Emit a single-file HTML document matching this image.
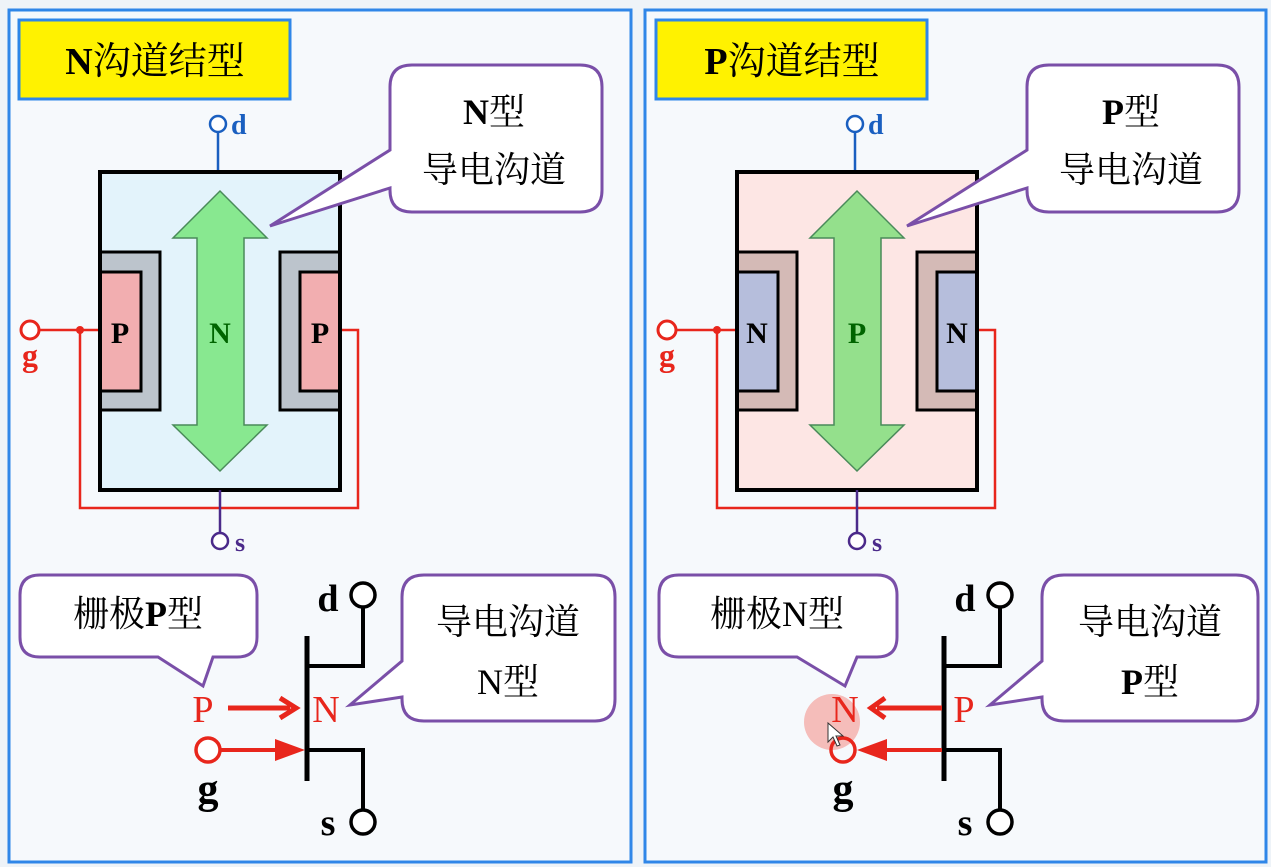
<!DOCTYPE html>
<html><head><meta charset="utf-8">
<style>
html,body{margin:0;padding:0;background:#f4f8fc;}
svg{display:block;}
text{font-family:"Liberation Serif","Noto Serif CJK SC",serif;}
.cj{font-family:"Liberation Serif","Noto Serif CJK SC",serif;}
</style></head><body>
<svg width="1271" height="867" viewBox="0 0 1271 867" xmlns="http://www.w3.org/2000/svg">
<rect width="1271" height="867" fill="#eef3f8"/>

<!-- LEFT PANEL -->
<g>
<rect x="9" y="10" width="622" height="852" fill="#f6f9fc" stroke="#2f86e8" stroke-width="3"/>
<rect x="19" y="20" width="271" height="79" fill="#fff200" stroke="#2f86e8" stroke-width="3"/>
<text x="155" y="74" font-size="38" text-anchor="middle" class="cj" fill="#000"><tspan font-weight="bold">N</tspan>沟道结型</text>
<line x1="218" y1="132" x2="218" y2="172" stroke="#1a5fc0" stroke-width="2.5"/>
<circle cx="218" cy="124" r="8" fill="#fff" stroke="#1a5fc0" stroke-width="2.5"/>
<text x="231" y="134" font-size="28" font-weight="bold" fill="#1a5fc0">d</text>
<polyline points="80,330 80,508 358,508 358,330 340,330" fill="none" stroke="#e8261c" stroke-width="2.5"/>
<line x1="39" y1="330" x2="100" y2="330" stroke="#e8261c" stroke-width="2.5"/>
<circle cx="80" cy="330" r="4" fill="#e8261c"/>
<circle cx="30" cy="330" r="9" fill="#fff" stroke="#e8261c" stroke-width="3"/>
<text x="30" y="366" font-size="32" font-weight="bold" fill="#e8261c" text-anchor="middle">g</text>
<rect x="100" y="172" width="240" height="318" fill="#e3f3fb" stroke="#000" stroke-width="4"/>
<rect x="100" y="252" width="60" height="158" fill="#bcc4cc" stroke="#000" stroke-width="3"/>
<rect x="100" y="272" width="41" height="119" fill="#f2aeb0" stroke="#000" stroke-width="3"/>
<rect x="280" y="252" width="60" height="158" fill="#bcc4cc" stroke="#000" stroke-width="3"/>
<rect x="300" y="272" width="40" height="119" fill="#f2aeb0" stroke="#000" stroke-width="3"/>
<line x1="340" y1="250" x2="340" y2="412" stroke="#000" stroke-width="4"/>
<line x1="100" y1="250" x2="100" y2="412" stroke="#000" stroke-width="4"/>
<polygon points="220,191 267,238 244,238 244,425 267,425 220,471 173,425 197,425 197,238 173,238" fill="#88e890" stroke="#4a8a5a" stroke-width="1.5"/>
<text x="220" y="343" font-size="30" font-weight="bold" fill="#006400" text-anchor="middle">N</text>
<text x="120" y="343" font-size="30" font-weight="bold" fill="#000" text-anchor="middle">P</text>
<text x="320" y="343" font-size="30" font-weight="bold" fill="#000" text-anchor="middle">P</text>
<line x1="220" y1="490" x2="220" y2="533" stroke="#4b2a8a" stroke-width="2.5"/>
<circle cx="220" cy="541" r="8" fill="#fff" stroke="#4b2a8a" stroke-width="2.5"/>
<text x="235" y="551" font-size="26" font-weight="bold" fill="#4b2a8a">s</text>
<path d="M412,65 H580 Q602,65 602,87 V190 Q602,212 580,212 H412 Q390,212 390,190 V188 L270,226 L390,150 V87 Q390,65 412,65 Z" fill="#fff" stroke="#7a4fa8" stroke-width="3"/>
<text x="494" y="124" font-size="36" text-anchor="middle" class="cj"><tspan font-weight="bold">N</tspan>型</text>
<text x="494" y="182" font-size="36" text-anchor="middle" class="cj">导电沟道</text>
<path d="M40,575 H237 Q257,575 257,595 V637 Q257,657 237,657 H213 L203,686 L158,657 H40 Q20,657 20,637 V595 Q20,575 40,575 Z" fill="#fff" stroke="#7a4fa8" stroke-width="3"/>
<text x="138" y="626" font-size="36" text-anchor="middle" class="cj">栅极<tspan font-weight="bold">P</tspan>型</text>
<path d="M424,575 H595 Q615,575 615,597 V699 Q615,721 595,721 H424 Q402,721 402,699 V697 L350,705 L402,661 V597 Q402,575 424,575 Z" fill="#fff" stroke="#7a4fa8" stroke-width="3"/>
<text x="508" y="634" font-size="36" text-anchor="middle" class="cj">导电沟道</text>
<text x="508" y="694" font-size="36" text-anchor="middle" class="cj">N型</text>
<line x1="307" y1="636" x2="307" y2="781" stroke="#000" stroke-width="5"/>
<polyline points="307,666 363,666 363,607" fill="none" stroke="#000" stroke-width="4"/>
<circle cx="363" cy="595" r="12" fill="#fff" stroke="#000" stroke-width="3.5"/>
<text x="328" y="611" font-size="38" font-weight="bold" text-anchor="middle">d</text>
<polyline points="307,750 363,750 363,810" fill="none" stroke="#000" stroke-width="4"/>
<circle cx="363" cy="822" r="12" fill="#fff" stroke="#000" stroke-width="3.5"/>
<text x="328" y="835" font-size="38" font-weight="bold" text-anchor="middle">s</text>
<text x="203" y="722" font-size="38" fill="#e8261c" text-anchor="middle">P</text>
<line x1="228" y1="708" x2="290" y2="708" stroke="#e8261c" stroke-width="5"/>
<polyline points="280,698 296,708 280,718" fill="none" stroke="#e8261c" stroke-width="5"/>
<text x="326" y="722" font-size="38" fill="#e8261c" text-anchor="middle">N</text>
<circle cx="208" cy="750" r="12" fill="#fff" stroke="#e8261c" stroke-width="3.5"/>
<line x1="220" y1="750" x2="280" y2="750" stroke="#e8261c" stroke-width="4"/>
<polygon points="275,739 305,750 275,761" fill="#e8261c"/>
<text x="208" y="803" font-size="42" font-weight="bold" text-anchor="middle">g</text>
</g>

<!-- RIGHT PANEL -->
<g transform="translate(637,0)">
<rect x="8" y="10" width="621" height="852" fill="#f6f9fc" stroke="#2f86e8" stroke-width="3"/>
<rect x="19" y="20" width="271" height="79" fill="#fff200" stroke="#2f86e8" stroke-width="3"/>
<text x="155" y="74" font-size="38" text-anchor="middle" class="cj" fill="#000"><tspan font-weight="bold">P</tspan>沟道结型</text>
<line x1="218" y1="132" x2="218" y2="172" stroke="#1a5fc0" stroke-width="2.5"/>
<circle cx="218" cy="124" r="8" fill="#fff" stroke="#1a5fc0" stroke-width="2.5"/>
<text x="231" y="134" font-size="28" font-weight="bold" fill="#1a5fc0">d</text>
<polyline points="80,330 80,508 358,508 358,330 340,330" fill="none" stroke="#e8261c" stroke-width="2.5"/>
<line x1="39" y1="330" x2="100" y2="330" stroke="#e8261c" stroke-width="2.5"/>
<circle cx="80" cy="330" r="4" fill="#e8261c"/>
<circle cx="30" cy="330" r="9" fill="#fff" stroke="#e8261c" stroke-width="3"/>
<text x="30" y="366" font-size="32" font-weight="bold" fill="#e8261c" text-anchor="middle">g</text>
<rect x="100" y="172" width="240" height="318" fill="#fde6e4" stroke="#000" stroke-width="4"/>
<rect x="100" y="252" width="60" height="158" fill="#d4bab6" stroke="#000" stroke-width="3"/>
<rect x="100" y="272" width="41" height="119" fill="#b6bedc" stroke="#000" stroke-width="3"/>
<rect x="280" y="252" width="60" height="158" fill="#d4bab6" stroke="#000" stroke-width="3"/>
<rect x="300" y="272" width="40" height="119" fill="#b6bedc" stroke="#000" stroke-width="3"/>
<line x1="340" y1="250" x2="340" y2="412" stroke="#000" stroke-width="4"/>
<line x1="100" y1="250" x2="100" y2="412" stroke="#000" stroke-width="4"/>
<polygon points="220,191 267,238 244,238 244,425 267,425 220,471 173,425 197,425 197,238 173,238" fill="#94e08c" stroke="#4a8a5a" stroke-width="1.5"/>
<text x="220" y="343" font-size="30" font-weight="bold" fill="#006400" text-anchor="middle">P</text>
<text x="120" y="343" font-size="30" font-weight="bold" fill="#000" text-anchor="middle">N</text>
<text x="320" y="343" font-size="30" font-weight="bold" fill="#000" text-anchor="middle">N</text>
<line x1="220" y1="490" x2="220" y2="533" stroke="#4b2a8a" stroke-width="2.5"/>
<circle cx="220" cy="541" r="8" fill="#fff" stroke="#4b2a8a" stroke-width="2.5"/>
<text x="235" y="551" font-size="26" font-weight="bold" fill="#4b2a8a">s</text>
<path d="M412,65 H580 Q602,65 602,87 V190 Q602,212 580,212 H412 Q390,212 390,190 V188 L270,226 L390,150 V87 Q390,65 412,65 Z" fill="#fff" stroke="#7a4fa8" stroke-width="3"/>
<text x="494" y="124" font-size="36" text-anchor="middle" class="cj"><tspan font-weight="bold">P</tspan>型</text>
<text x="494" y="182" font-size="36" text-anchor="middle" class="cj">导电沟道</text>
<path d="M42,575 H240 Q260,575 260,595 V637 Q260,657 240,657 H220 L208,686 L160,657 H42 Q22,657 22,637 V595 Q22,575 42,575 Z" fill="#fff" stroke="#7a4fa8" stroke-width="3"/>
<text x="140" y="626" font-size="36" text-anchor="middle" class="cj">栅极N型</text>
<path d="M427,575 H599 Q621,575 621,597 V699 Q621,721 599,721 H427 Q405,721 405,699 V697 L353,705 L405,661 V597 Q405,575 427,575 Z" fill="#fff" stroke="#7a4fa8" stroke-width="3"/>
<text x="513" y="634" font-size="36" text-anchor="middle" class="cj">导电沟道</text>
<text x="513" y="694" font-size="36" text-anchor="middle" class="cj"><tspan font-weight="bold">P</tspan>型</text>
<line x1="307" y1="636" x2="307" y2="781" stroke="#000" stroke-width="5"/>
<polyline points="307,666 363,666 363,607" fill="none" stroke="#000" stroke-width="4"/>
<circle cx="363" cy="595" r="12" fill="#fff" stroke="#000" stroke-width="3.5"/>
<text x="328" y="611" font-size="38" font-weight="bold" text-anchor="middle">d</text>
<polyline points="307,750 363,750 363,810" fill="none" stroke="#000" stroke-width="4"/>
<circle cx="363" cy="822" r="12" fill="#fff" stroke="#000" stroke-width="3.5"/>
<text x="328" y="835" font-size="38" font-weight="bold" text-anchor="middle">s</text>
<circle cx="195" cy="722" r="28" fill="#f4a8a4" opacity="0.75"/>
<text x="208" y="722" font-size="38" fill="#e8261c" text-anchor="middle">N</text>
<line x1="240" y1="708" x2="305" y2="708" stroke="#e8261c" stroke-width="5"/>
<polyline points="248,698 234,708 248,718" fill="none" stroke="#e8261c" stroke-width="5"/>
<text x="327" y="722" font-size="38" fill="#e8261c" text-anchor="middle">P</text>
<circle cx="206" cy="750" r="12" fill="none" stroke="#e8261c" stroke-width="3.5"/>
<line x1="240" y1="750" x2="305" y2="750" stroke="#e8261c" stroke-width="4"/>
<polygon points="250,739 220,750 250,761" fill="#e8261c"/>
<path d="M191,723 L191,742 L196,737 L200,746 L203,745 L199,736 L206,736 Z" fill="#fff" stroke="#333" stroke-width="1"/>
<text x="206" y="803" font-size="42" font-weight="bold" text-anchor="middle">g</text>
</g>
</svg>
</body></html>
